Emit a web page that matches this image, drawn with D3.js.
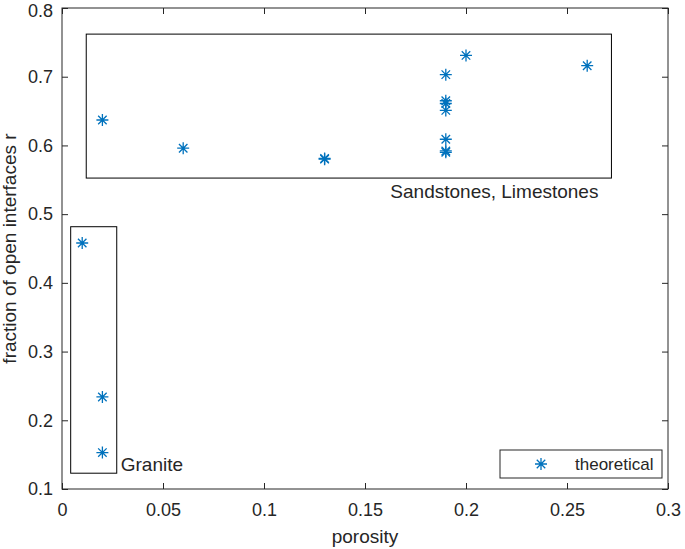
<!DOCTYPE html>
<html><head><meta charset="utf-8">
<script src="https://cdn.jsdelivr.net/npm/d3@7"></script>
<style>body{margin:0;background:#fff}svg{display:block}text{font-family:"Liberation Sans",Arial,sans-serif;fill:#262626}</style>
</head><body>
<svg id="c" width="685" height="549"></svg>
<script>
const porosity = [0.02, 0.06, 0.13, 0.13, 0.19, 0.19, 0.19, 0.19, 0.19, 0.19, 0.19, 0.20, 0.26, 0.01, 0.02, 0.02];
const fractionR = [0.637, 0.596, 0.580, 0.581, 0.703, 0.665, 0.661, 0.651, 0.609, 0.592, 0.590, 0.731, 0.716, 0.458, 0.234, 0.153];
const xTicks = [0, 0.05, 0.1, 0.15, 0.2, 0.25, 0.3];
const yTicks = [0.1, 0.2, 0.3, 0.4, 0.5, 0.6, 0.7, 0.8];
const groupBoxes = [
  {label: "Sandstones, Limestones", x0: 0.012, x1: 0.272, y0: 0.5525, y1: 0.762},
  {label: "Granite", x0: 0.0043, x1: 0.0271, y0: 0.123, y1: 0.4817}
];
const legendLabel = "theoretical";

const W = 685, H = 549;
const m = {l: 62, r: 17, t: 8, b: 60};
const svg = d3.select("#c");
const x = d3.scaleLinear().domain([0, 0.3]).range([m.l, W - m.r]);
const y = d3.scaleLinear().domain([0.1, 0.8]).range([H - m.b, m.t]);
const axCol = "#262626", blue = "#0072BD";
const fmt = d => d === 0 ? "0" : String(d);

function styleAxis(g) {
  g.select(".domain").remove();
  g.selectAll(".tick line").attr("stroke", axCol).attr("stroke-width", 1);
  g.selectAll(".tick text").style("font-size", "18px").attr("fill", axCol);
}
svg.append("g").attr("transform", `translate(0,${y(0.1)})`)
  .call(d3.axisBottom(x).tickValues(xTicks).tickFormat(fmt).tickSizeInner(-6).tickSizeOuter(0).tickPadding(14))
  .call(styleAxis);
svg.append("g").attr("transform", `translate(0,${y(0.8)})`)
  .call(d3.axisTop(x).tickValues(xTicks).tickFormat("").tickSizeInner(-6).tickSizeOuter(0))
  .call(styleAxis);
const yAx = svg.append("g").attr("transform", `translate(${x(0)},0)`)
  .call(d3.axisLeft(y).tickValues(yTicks).tickFormat(fmt).tickSizeInner(-6).tickSizeOuter(0).tickPadding(9))
  .call(styleAxis);
// top label is nudged down so it stays inside the figure
yAx.selectAll(".tick").filter(d => d === 0.8).select("text").attr("dy", "0.48em");
svg.append("g").attr("transform", `translate(${x(0.3)},0)`)
  .call(d3.axisRight(y).tickValues(yTicks).tickFormat("").tickSizeInner(-6).tickSizeOuter(0))
  .call(styleAxis);
svg.append("rect").attr("x", x(0)).attr("y", y(0.8)).attr("width", x(0.3) - x(0)).attr("height", y(0.1) - y(0.8))
  .attr("fill", "none").attr("stroke", axCol).attr("stroke-width", 1);

// group boxes
groupBoxes.forEach(b => {
  svg.append("rect").attr("x", x(b.x0)).attr("y", y(b.y1)).attr("width", x(b.x1) - x(b.x0)).attr("height", y(b.y0) - y(b.y1))
    .attr("fill", "none").attr("stroke", "#000").attr("stroke-width", 1);
});
svg.append("text").attr("x", x(groupBoxes[0].x1) - 13).attr("y", y(groupBoxes[0].y0) + 20).attr("text-anchor", "end")
  .style("font-size", "19px").attr("fill", "#000").text(groupBoxes[0].label);
svg.append("text").attr("x", x(groupBoxes[1].x1) + 4).attr("y", y(groupBoxes[1].y0) - 2)
  .style("font-size", "19px").attr("fill", "#000").text(groupBoxes[1].label);

// asterisk marker
function star(g, cx, cy, r) {
  const d = r * Math.SQRT1_2;
  g.append("path").attr("d",
    `M${cx - r},${cy}L${cx + r},${cy}M${cx},${cy - r}L${cx},${cy + r}M${cx - d},${cy - d}L${cx + d},${cy + d}M${cx - d},${cy + d}L${cx + d},${cy - d}`)
    .attr("stroke", blue).attr("stroke-width", 1.3).attr("fill", "none");
}
const pts = svg.append("g");
porosity.forEach((p, i) => star(pts, x(p), y(fractionR[i]), 6));

// legend
const lg = svg.append("g");
lg.append("rect").attr("x", 500).attr("y", 450).attr("width", 162).attr("height", 28)
  .attr("fill", "#fff").attr("stroke", axCol).attr("stroke-width", 1);
star(lg, 541, 464, 6);
lg.append("text").attr("x", 575).attr("y", 470).style("font-size", "17px").attr("fill", "#000").text(legendLabel);

// axis labels
svg.append("text").attr("x", (x(0) + x(0.3)) / 2).attr("y", 543).attr("text-anchor", "middle")
  .style("font-size", "19px").text("porosity");
svg.append("text").attr("transform", `translate(16,${(y(0.1) + y(0.8)) / 2}) rotate(-90)`).attr("text-anchor", "middle")
  .style("font-size", "19px").text("fraction of open interfaces r");
</script>
</body></html>
